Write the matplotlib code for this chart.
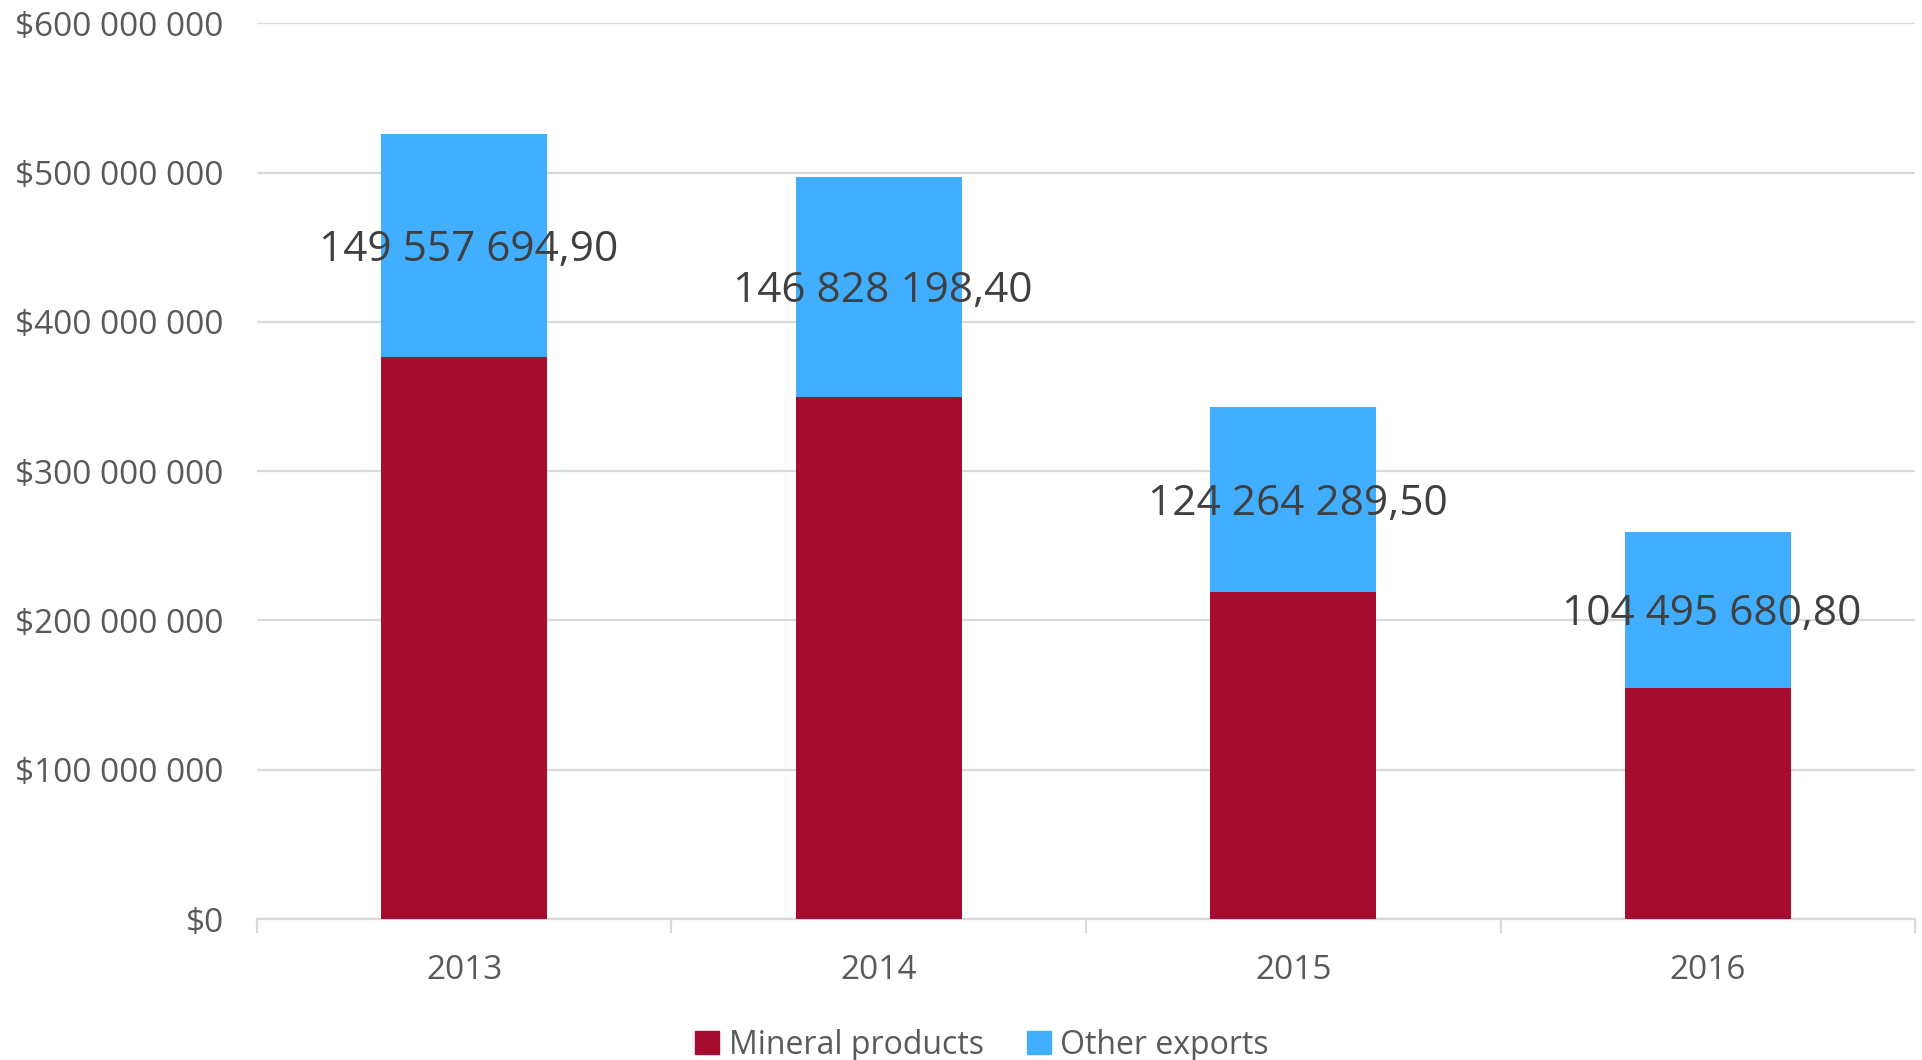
import matplotlib.pyplot as plt
from matplotlib.ticker import FuncFormatter, FixedLocator
from matplotlib.patches import Patch

plt.rcParams['font.family'] = ['Open Sans', 'DejaVu Sans']

years = ['2013', '2014', '2015', '2016']
mineral = [376.2e6, 350.0e6, 218.8e6, 155.0e6]
other = [149557694.90, 146828198.40, 124264289.50, 104495680.80]

RED = '#A60B30'
BLUE = '#41AEFF'
GRID = '#D9D9D9'
TICK_TXT = '#595959'
LABEL_TXT = '#404040'


def money(v, pos=None):
    return '$' + f'{v:,.0f}'.replace(',', ' ')


def euro_style(v):
    return f'{v:,.2f}'.replace(',', ' ').replace('.', ',')


fig = plt.figure(figsize=(19.22, 10.60), dpi=100)
ax = fig.add_axes([0.1337, 0.133, 0.8627, 0.845])

x = list(range(len(years)))
ax.bar(x, mineral, width=0.4, color=RED, zorder=3)
ax.bar(x, other, width=0.4, bottom=mineral, color=BLUE, zorder=3)

# value of the upper segment written in its middle
for i in x:
    ax.annotate(euro_style(other[i]), (i + 0.01, mineral[i] + other[i] / 2),
                xytext=(0, -3), textcoords='offset points',
                ha='center', va='center', fontsize=30.5, color=LABEL_TXT, zorder=4)

ax.set_xlim(-0.5, len(years) - 0.5)
ax.set_ylim(0, 600e6)
ax.set_yticks([i * 100e6 for i in range(7)])
ax.yaxis.set_major_formatter(FuncFormatter(money))
ax.grid(axis='y', color=GRID, linewidth=1.6, zorder=0)
ax.tick_params(axis='y', length=0, pad=24, labelsize=24, labelcolor=TICK_TXT)

ax.set_xticks(x)
ax.set_xticklabels(years)
ax.xaxis.set_minor_locator(FixedLocator([i - 0.5 for i in range(len(years) + 1)]))
ax.tick_params(axis='x', which='major', length=0, pad=25, labelsize=24,
               labelcolor=TICK_TXT)
ax.tick_params(axis='x', which='minor', length=10, width=1.6, color=GRID)

for side in ['top', 'right', 'left']:
    ax.spines[side].set_visible(False)
ax.spines['bottom'].set_color(GRID)
ax.spines['bottom'].set_linewidth(1.6)

handles = [Patch(color=RED, label='Mineral products'),
           Patch(color=BLUE, label='Other exports')]
fig.legend(handles=handles, loc='center', bbox_to_anchor=(0.511, 0.014), ncol=2,
           frameon=False, fontsize=23, labelcolor=TICK_TXT, handlelength=0.75,
           handleheight=0.75, handletextpad=0.3, columnspacing=1.35)

fig.savefig('out.png', dpi=100)
